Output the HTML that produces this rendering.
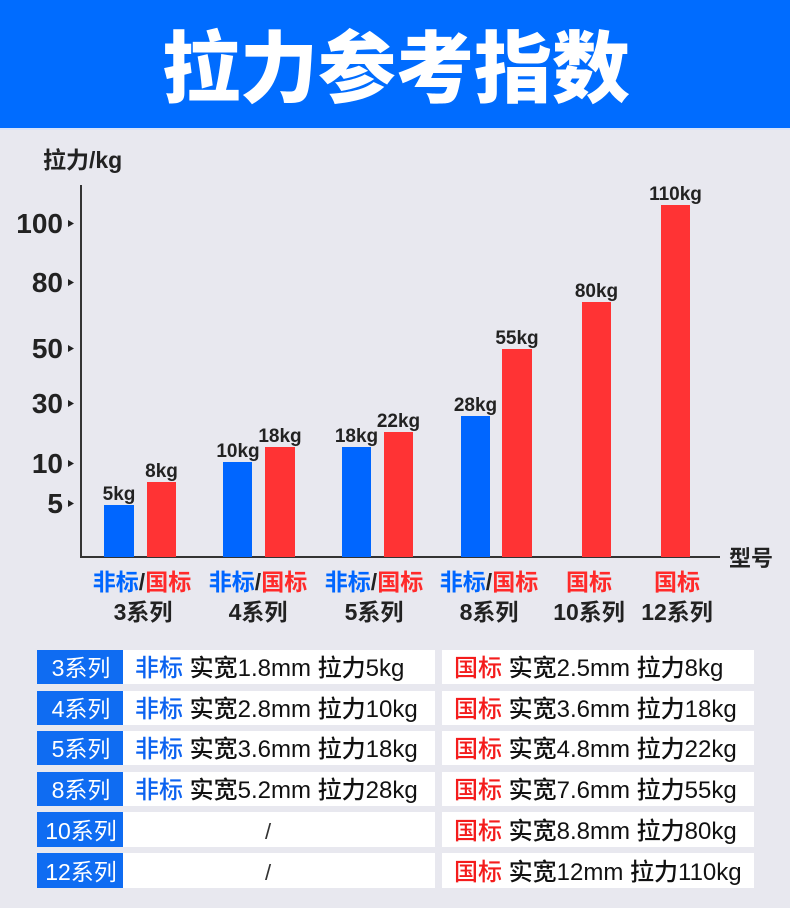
<!DOCTYPE html>
<html><head><meta charset="utf-8"><style>
html,body{margin:0;padding:0;background:#e8e8ef;}
svg{display:block;}
text{font-family:"Liberation Sans","Noto Sans CJK SC",sans-serif;}
</style></head><body>
<svg width="790" height="908" viewBox="0 0 790 908" xmlns="http://www.w3.org/2000/svg">
<rect x="0" y="0" width="790" height="908" fill="#e8e8ef"/>
<rect x="0" y="0" width="790" height="128" fill="#006cff"/>
<rect x="0" y="128" width="790" height="2" fill="#d6e3fb"/>
<text x="396" y="96" text-anchor="middle" font-size="78" font-weight="900" fill="#fff">拉力参考指数</text>

<!-- axis labels -->
<text x="43" y="168" font-size="23" font-weight="700" fill="#222">拉力/kg</text>
<text x="729" y="566" font-size="22" font-weight="700" fill="#222">型号</text>

<!-- axes -->
<line x1="81" y1="185" x2="81" y2="558" stroke="#333" stroke-width="2"/>
<line x1="80" y1="557" x2="720" y2="557" stroke="#333" stroke-width="2"/>

<!-- y ticks -->
<g font-size="28" font-weight="700" fill="#222" text-anchor="end">
<text x="63" y="233">100</text>
<text x="63" y="292">80</text>
<text x="63" y="358">50</text>
<text x="63" y="413">30</text>
<text x="63" y="473">10</text>
<text x="63" y="513">5</text>
</g>
<g fill="#222">
<polygon points="68,220 74,223.5 68,227"/>
<polygon points="68,279 74,282.5 68,286"/>
<polygon points="68,345 74,348.5 68,352"/>
<polygon points="68,400 74,403.5 68,407"/>
<polygon points="68,460 74,463.5 68,467"/>
<polygon points="68,500 74,503.5 68,507"/>
</g>

<!-- bars -->
<g fill="#0066ff">
<rect x="104" y="505" width="30" height="52"/>
<rect x="223" y="462" width="29" height="95"/>
<rect x="342" y="447" width="29" height="110"/>
<rect x="461" y="416" width="29" height="141"/>
</g>
<g fill="#ff3334">
<rect x="147" y="482" width="29" height="75"/>
<rect x="265" y="447" width="30" height="110"/>
<rect x="384" y="432" width="29" height="125"/>
<rect x="502" y="349" width="30" height="208"/>
<rect x="582" y="302" width="29" height="255"/>
<rect x="661" y="205" width="29" height="352"/>
</g>

<!-- value labels -->
<g font-size="19" font-weight="700" fill="#222" text-anchor="middle">
<text x="119" y="500">5kg</text>
<text x="161.5" y="477">8kg</text>
<text x="238" y="457">10kg</text>
<text x="280" y="442">18kg</text>
<text x="356.5" y="442">18kg</text>
<text x="398.5" y="427">22kg</text>
<text x="475.5" y="411">28kg</text>
<text x="517" y="344">55kg</text>
<text x="596.5" y="297">80kg</text>
<text x="675.5" y="200">110kg</text>
</g>

<!-- category labels -->
<g font-size="23" font-weight="700" text-anchor="middle">
<text x="142" y="590"><tspan fill="#0066ff">非标</tspan><tspan fill="#222">/</tspan><tspan fill="#ff2a2a">国标</tspan></text>
<text x="258" y="590"><tspan fill="#0066ff">非标</tspan><tspan fill="#222">/</tspan><tspan fill="#ff2a2a">国标</tspan></text>
<text x="374" y="590"><tspan fill="#0066ff">非标</tspan><tspan fill="#222">/</tspan><tspan fill="#ff2a2a">国标</tspan></text>
<text x="489" y="590"><tspan fill="#0066ff">非标</tspan><tspan fill="#222">/</tspan><tspan fill="#ff2a2a">国标</tspan></text>
<text x="589" y="590" fill="#ff2a2a">国标</text>
<text x="677" y="590" fill="#ff2a2a">国标</text>
<g fill="#222">
<text x="143" y="620">3系列</text>
<text x="258" y="620">4系列</text>
<text x="374" y="620">5系列</text>
<text x="489" y="620">8系列</text>
<text x="589" y="620">10系列</text>
<text x="677" y="620">12系列</text>
</g>
</g>

<!-- table -->
<g>
<rect x="37" y="650" width="86" height="34" fill="#0f6cf2"/>
<rect x="123" y="650" width="312" height="34" fill="#fff"/>
<rect x="442" y="650" width="312" height="34" fill="#fff"/>

<rect x="37" y="691" width="86" height="34" fill="#0f6cf2"/>
<rect x="123" y="691" width="312" height="34" fill="#fff"/>
<rect x="442" y="691" width="312" height="34" fill="#fff"/>

<rect x="37" y="731" width="86" height="34" fill="#0f6cf2"/>
<rect x="123" y="731" width="312" height="34" fill="#fff"/>
<rect x="442" y="731" width="312" height="34" fill="#fff"/>

<rect x="37" y="772" width="86" height="34" fill="#0f6cf2"/>
<rect x="123" y="772" width="312" height="34" fill="#fff"/>
<rect x="442" y="772" width="312" height="34" fill="#fff"/>

<rect x="37" y="812" width="86" height="35" fill="#0f6cf2"/>
<rect x="123" y="812" width="312" height="35" fill="#fff"/>
<rect x="442" y="812" width="312" height="35" fill="#fff"/>

<rect x="37" y="853" width="86" height="35" fill="#0f6cf2"/>
<rect x="123" y="853" width="312" height="35" fill="#fff"/>
<rect x="442" y="853" width="312" height="35" fill="#fff"/>
</g>
<g font-size="23" fill="#fff" text-anchor="middle">
<text x="81" y="676">3系列</text>
<text x="81" y="717">4系列</text>
<text x="81" y="757">5系列</text>
<text x="81" y="798">8系列</text>
<text x="81" y="839">10系列</text>
<text x="81" y="880">12系列</text>
</g>
<g font-size="24" fill="#111" font-weight="500">
<text x="135" y="676"><tspan fill="#0b62f0">非标</tspan> 实宽1.8mm 拉力5kg</text>
<text x="135" y="717"><tspan fill="#0b62f0">非标</tspan> 实宽2.8mm 拉力10kg</text>
<text x="135" y="757"><tspan fill="#0b62f0">非标</tspan> 实宽3.6mm 拉力18kg</text>
<text x="135" y="798"><tspan fill="#0b62f0">非标</tspan> 实宽5.2mm 拉力28kg</text>
<text x="268" y="839" text-anchor="middle" font-size="22" fill="#333">/</text>
<text x="268" y="880" text-anchor="middle" font-size="22" fill="#333">/</text>
<text x="454" y="676"><tspan fill="#f41c1c">国标</tspan> 实宽2.5mm 拉力8kg</text>
<text x="454" y="717"><tspan fill="#f41c1c">国标</tspan> 实宽3.6mm 拉力18kg</text>
<text x="454" y="757"><tspan fill="#f41c1c">国标</tspan> 实宽4.8mm 拉力22kg</text>
<text x="454" y="798"><tspan fill="#f41c1c">国标</tspan> 实宽7.6mm 拉力55kg</text>
<text x="454" y="839"><tspan fill="#f41c1c">国标</tspan> 实宽8.8mm 拉力80kg</text>
<text x="454" y="880"><tspan fill="#f41c1c">国标</tspan> 实宽12mm 拉力110kg</text>
</g>
</svg>
</body></html>
